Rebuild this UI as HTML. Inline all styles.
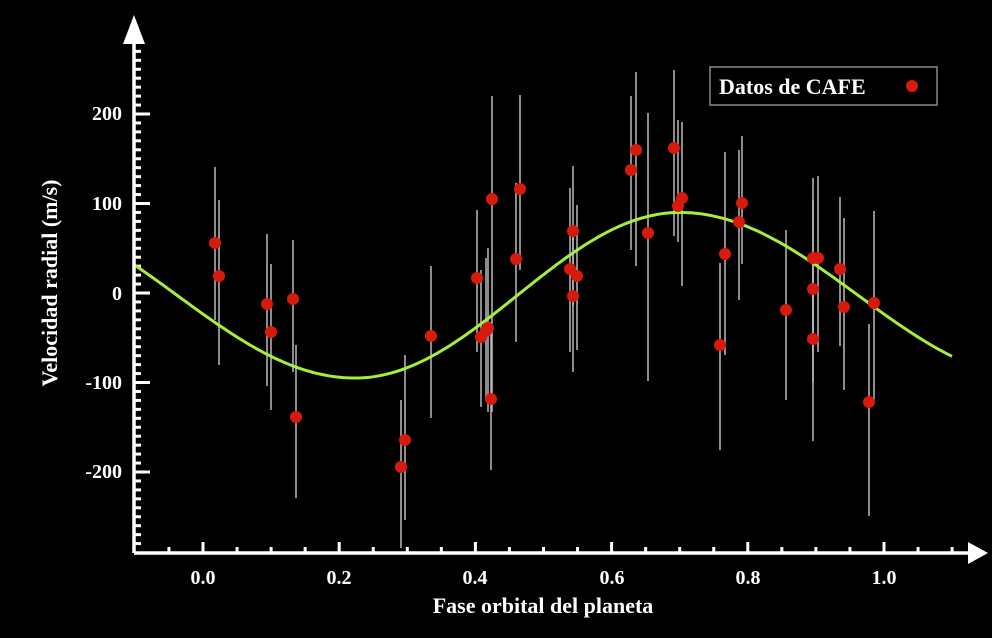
<!DOCTYPE html>
<html><head><meta charset="utf-8"><style>
html,body{margin:0;padding:0;background:#000;}
svg{display:block}
text{font-family:"Liberation Serif",serif;font-weight:bold;fill:#fff}
</style></head><body>
<svg id="s" width="992" height="638" viewBox="0 0 992 638" xmlns="http://www.w3.org/2000/svg">
<rect width="992" height="638" fill="#000"/>
<g id="ticks" stroke="#fff" stroke-width="3"></g>
<g id="err" stroke="#bbb" stroke-width="1.5"></g>
<path id="curve" fill="none" stroke="#a6ee3a" stroke-width="3"/>
<g id="pts" fill="#d81a0c"></g>
<line x1="134" y1="553" x2="972" y2="553" stroke="#fff" stroke-width="3.5"/>
<line x1="134" y1="553" x2="134" y2="40" stroke="#fff" stroke-width="3.5"/>
<polygon points="123,44 145,44 134,15" fill="#fff"/>
<polygon points="968,542 968,564 988,553" fill="#fff"/>
<g font-size="20" text-anchor="end">
<text x="122" y="120">200</text><text x="122" y="210">100</text><text x="122" y="300">0</text>
<text x="122" y="389">-100</text><text x="122" y="478">-200</text>
</g>
<g font-size="20" text-anchor="middle">
<text x="203" y="584">0.0</text><text x="339" y="584">0.2</text><text x="475" y="584">0.4</text>
<text x="612" y="584">0.6</text><text x="748" y="584">0.8</text><text x="884" y="584">1.0</text>
</g>
<text x="543" y="613" font-size="22" text-anchor="middle">Fase orbital del planeta</text>
<text transform="translate(57,283) rotate(-90)" font-size="22" text-anchor="middle">Velocidad radial (m/s)</text>
<rect x="710" y="67" width="227" height="38" fill="#000" stroke="#888" stroke-width="1.5"/>
<text x="719" y="94" font-size="22">Datos de CAFE</text>
<circle cx="912" cy="86" r="6" fill="#d81a0c"/>
</svg>
<script>
var NS="http://www.w3.org/2000/svg";
function el(t,a,p){var e=document.createElementNS(NS,t);for(var k in a)e.setAttribute(k,a[k]);document.getElementById(p).appendChild(e);}
for(var v=-290;v<=280;v+=10){var y=293-v*0.895;if(y>550||y<48)continue;var L=(v%100==0)?16:7;el('line',{x1:134,y1:y,x2:134+L,y2:y},'ticks');}
for(var f=-0.05;f<=1.11;f+=0.05){var x=203+f*681;var r=Math.round(f*20);var L=(r%4==0)?11:6;el('line',{x1:x,y1:553,x2:x,y2:553-L},'ticks');}
var d=[[215,243,167,320],[219,276,200,365],[267,304,234,386],[271,332,264,410],[293,299,240,372],[296,417,345,498],[401,467,400,548],[405,440,355,520],[431,336,266,418],[477,278,210,352],[481,337,270,407],[486,331,258,399],[488,328,248,412],[491,399,322,470],[492,199,96,412],[516,259,183,342],[520,189,95,270],[570,269,188,352],[573,231,166,306],[573,296,226,372],[577,276,205,350],[631,170,96,250],[636,150,72,266],[648,233,113,381],[674,148,70,236],[678,206,120,242],[682,198,122,286],[720,345,263,450],[725,254,152,355],[739,222,150,300],[742,203,136,264],[786,310,230,400],[813,258,178,353],[813,289,200,382],[813,339,258,441],[818,258,176,352],[840,269,197,346],[844,307,218,390],[869,402,324,516],[874,303,211,400]];
d.forEach(function(p){el('line',{x1:p[0],y1:p[2],x2:p[0],y2:p[3]},'err');el('circle',{cx:p[0],cy:p[1],r:6},'pts');});
function vel(x){var mid=-2.5,amp=92.5;
 if(x<355){var fr=(x+1)/356;return mid+amp*Math.cos(Math.PI*fr);}
 if(x<680){var fr=(x-355)/325;return mid-amp*Math.cos(Math.PI*fr);}
 var fr=(x-680)/356;return mid+amp*Math.cos(Math.PI*fr);}
var s="";for(var x=133;x<=952;x+=3){var y=293-vel(x)*0.895;s+=(x==133?"M":"L")+x+","+y.toFixed(1);}
document.getElementById('curve').setAttribute('d',s);
</script>
</body></html>
